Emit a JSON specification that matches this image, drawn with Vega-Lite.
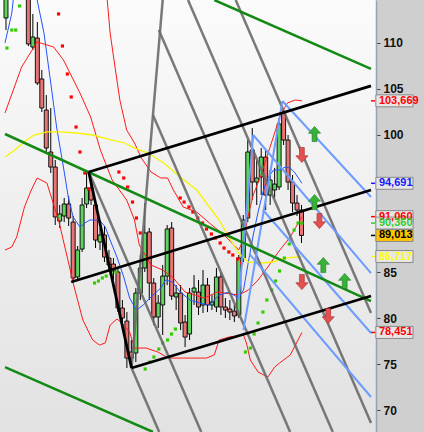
{
  "$schema": "https://vega.github.io/schema/vega-lite/v6.json",
  "width": 376,
  "height": 432,
  "autosize": {"type": "none"},
  "padding": {"left": 0, "top": 0, "right": 48, "bottom": 0},
  "background": "#cfcfcf",
  "config": {
    "view": {"stroke": null, "fill": {"gradient": "linear", "x1": 0, "y1": 0, "x2": 0, "y2": 1, "stops": [{"offset": 0, "color": "#fbfbfb"}, {"offset": 1, "color": "#e2e2e2"}]}},
    "axisY": {"domainColor": "#95a3b3", "domainWidth": 1.5, "tickColor": "#444444", "tickSize": 4, "labelFont": "Liberation Sans", "labelFontSize": 12, "labelFontWeight": "bold", "labelColor": "#111111", "labelPadding": 3, "grid": false, "labelFlush": false, "labelOverlap": false, "zindex": 0}
  },
  "datasets": {
    "candles": [
      {"k": -5, "o": 112.69, "h": 115.96, "l": 111.38, "c": 115.52},
      {"k": 0, "o": 116.83, "h": 117.37, "l": 109.64, "c": 109.86},
      {"k": 1, "o": 109.53, "h": 113.13, "l": 109.21, "c": 110.62},
      {"k": 2, "o": 110.51, "h": 112.25, "l": 105.39, "c": 105.61},
      {"k": 3, "o": 106.05, "h": 107.03, "l": 102.45, "c": 102.89},
      {"k": 4, "o": 102.67, "h": 104.30, "l": 98.10, "c": 98.53},
      {"k": 5, "o": 98.10, "h": 102.89, "l": 95.81, "c": 96.46},
      {"k": 6, "o": 96.46, "h": 97.23, "l": 90.15, "c": 91.02},
      {"k": 7, "o": 90.58, "h": 92.33, "l": 89.82, "c": 91.35},
      {"k": 8, "o": 91.13, "h": 93.09, "l": 90.47, "c": 92.44},
      {"k": 9, "o": 92.44, "h": 93.31, "l": 90.04, "c": 90.91},
      {"k": 10, "o": 90.47, "h": 91.13, "l": 84.05, "c": 84.38},
      {"k": 11, "o": 84.49, "h": 87.86, "l": 84.16, "c": 87.43},
      {"k": 12, "o": 87.53, "h": 93.09, "l": 87.21, "c": 92.33},
      {"k": 13, "o": 92.44, "h": 95.81, "l": 92.00, "c": 94.18},
      {"k": 14, "o": 94.18, "h": 95.27, "l": 92.33, "c": 92.87},
      {"k": 15, "o": 92.33, "h": 92.87, "l": 87.64, "c": 88.51},
      {"k": 16, "o": 88.30, "h": 89.82, "l": 87.43, "c": 89.06},
      {"k": 17, "o": 89.06, "h": 90.04, "l": 86.12, "c": 86.66},
      {"k": 18, "o": 86.55, "h": 87.43, "l": 85.03, "c": 85.79},
      {"k": 19, "o": 85.90, "h": 86.55, "l": 84.16, "c": 85.14},
      {"k": 20, "o": 85.03, "h": 85.47, "l": 80.67, "c": 81.11},
      {"k": 21, "o": 81.11, "h": 81.98, "l": 79.37, "c": 80.02},
      {"k": 22, "o": 79.69, "h": 80.67, "l": 74.58, "c": 75.66},
      {"k": 23, "o": 76.32, "h": 77.63, "l": 74.79, "c": 75.66},
      {"k": 24, "o": 76.21, "h": 83.29, "l": 75.23, "c": 82.74},
      {"k": 25, "o": 82.74, "h": 86.88, "l": 81.98, "c": 85.47},
      {"k": 26, "o": 85.47, "h": 92.54, "l": 85.03, "c": 89.28},
      {"k": 27, "o": 89.39, "h": 89.82, "l": 81.98, "c": 83.83},
      {"k": 28, "o": 83.83, "h": 84.38, "l": 79.26, "c": 80.13},
      {"k": 29, "o": 80.13, "h": 82.52, "l": 78.93, "c": 81.65},
      {"k": 30, "o": 81.44, "h": 85.79, "l": 78.17, "c": 84.59},
      {"k": 31, "o": 84.59, "h": 90.15, "l": 83.61, "c": 89.71},
      {"k": 32, "o": 89.82, "h": 90.47, "l": 81.98, "c": 82.42},
      {"k": 33, "o": 82.31, "h": 83.61, "l": 80.89, "c": 82.74},
      {"k": 34, "o": 82.74, "h": 83.61, "l": 78.71, "c": 79.48},
      {"k": 35, "o": 79.58, "h": 80.35, "l": 76.86, "c": 77.95},
      {"k": 36, "o": 78.28, "h": 83.29, "l": 77.63, "c": 82.74},
      {"k": 37, "o": 82.85, "h": 84.70, "l": 81.44, "c": 83.29},
      {"k": 38, "o": 82.85, "h": 84.16, "l": 80.35, "c": 81.22},
      {"k": 39, "o": 81.44, "h": 85.25, "l": 80.57, "c": 83.61},
      {"k": 40, "o": 83.61, "h": 84.38, "l": 80.67, "c": 81.44},
      {"k": 41, "o": 81.44, "h": 82.52, "l": 80.89, "c": 81.76},
      {"k": 42, "o": 81.22, "h": 85.47, "l": 80.67, "c": 84.49},
      {"k": 43, "o": 84.49, "h": 85.03, "l": 80.35, "c": 81.22},
      {"k": 44, "o": 81.22, "h": 82.20, "l": 80.02, "c": 80.89},
      {"k": 45, "o": 81.00, "h": 81.98, "l": 79.80, "c": 80.67},
      {"k": 46, "o": 80.78, "h": 81.44, "l": 79.58, "c": 80.24},
      {"k": 47, "o": 80.35, "h": 86.88, "l": 80.02, "c": 86.55},
      {"k": 48, "o": 86.55, "h": 91.24, "l": 86.12, "c": 90.69},
      {"k": 49, "o": 90.91, "h": 99.40, "l": 90.47, "c": 98.10},
      {"k": 50, "o": 98.32, "h": 100.71, "l": 92.87, "c": 94.83},
      {"k": 51, "o": 94.83, "h": 97.23, "l": 92.33, "c": 95.27},
      {"k": 52, "o": 95.38, "h": 98.53, "l": 93.41, "c": 97.55},
      {"k": 53, "o": 97.55, "h": 98.32, "l": 91.78, "c": 93.41},
      {"k": 54, "o": 93.41, "h": 96.14, "l": 92.33, "c": 95.05},
      {"k": 55, "o": 93.96, "h": 96.36, "l": 93.09, "c": 94.61},
      {"k": 56, "o": 94.29, "h": 101.80, "l": 93.96, "c": 101.15},
      {"k": 57, "o": 102.35, "h": 102.67, "l": 98.86, "c": 99.40},
      {"k": 58, "o": 99.40, "h": 99.95, "l": 93.96, "c": 94.83},
      {"k": 59, "o": 94.83, "h": 95.59, "l": 91.56, "c": 92.54},
      {"k": 60, "o": 92.54, "h": 93.41, "l": 91.13, "c": 91.78},
      {"k": 61, "o": 91.78, "h": 92.33, "l": 88.19, "c": 89.01}
    ],
    "ind": [
      {"s": "ub", "k": 16.96, "v": 117.37}, {"s": "ub", "k": 17.61, "v": 114.65}, {"s": "ub", "k": 18.26, "v": 111.06}, {"s": "ub", "k": 19.35, "v": 107.35}, {"s": "ub", "k": 20.43, "v": 103.76}, {"s": "ub", "k": 21.96, "v": 100.49}, {"s": "ub", "k": 23.70, "v": 99.08}, {"s": "ub", "k": 25.22, "v": 97.44}, {"s": "ub", "k": 27.39, "v": 95.92}, {"s": "ub", "k": 29.57, "v": 95.27}, {"s": "ub", "k": 31.09, "v": 95.27}, {"s": "ub", "k": 32.39, "v": 93.96}, {"s": "ub", "k": 34.57, "v": 92.11}, {"s": "ub", "k": 37.61, "v": 91.56}, {"s": "ub", "k": 40.43, "v": 90.37}, {"s": "ub", "k": 43.70, "v": 89.06}, {"s": "ub", "k": 46.96, "v": 87.43}, {"s": "ub", "k": 48.04, "v": 88.51}, {"s": "ub", "k": 49.13, "v": 91.24}, {"s": "ub", "k": 50.22, "v": 93.41}, {"s": "ub", "k": 51.96, "v": 95.59}, {"s": "ub", "k": 54.13, "v": 98.86}, {"s": "ub", "k": 56.30, "v": 102.13}, {"s": "ub", "k": 57.83, "v": 103.43}, {"s": "ub", "k": 59.57, "v": 103.76}, {"s": "ub", "k": 61.09, "v": 103.669},
      {"s": "mb", "k": -5.22, "v": 102.34}, {"s": "mb", "k": -1.52, "v": 107.35}, {"s": "mb", "k": 1.96, "v": 110.08}, {"s": "mb", "k": 5.65, "v": 109.53}, {"s": "mb", "k": 7.83, "v": 108.12}, {"s": "mb", "k": 11.52, "v": 104.52}, {"s": "mb", "k": 13.91, "v": 101.91}, {"s": "mb", "k": 16.09, "v": 98.31}, {"s": "mb", "k": 18.70, "v": 95.05}, {"s": "mb", "k": 21.96, "v": 92.87}, {"s": "mb", "k": 23.70, "v": 90.69}, {"s": "mb", "k": 24.78, "v": 87.97}, {"s": "mb", "k": 27.39, "v": 85.79}, {"s": "mb", "k": 30.0, "v": 85.25}, {"s": "mb", "k": 32.17, "v": 84.49}, {"s": "mb", "k": 35.0, "v": 82.85}, {"s": "mb", "k": 39.35, "v": 82.20}, {"s": "mb", "k": 42.17, "v": 82.85}, {"s": "mb", "k": 46.96, "v": 82.52}, {"s": "mb", "k": 49.13, "v": 83.07}, {"s": "mb", "k": 51.30, "v": 84.16}, {"s": "mb", "k": 53.48, "v": 85.57}, {"s": "mb", "k": 55.65, "v": 87.10}, {"s": "mb", "k": 58.48, "v": 88.84}, {"s": "mb", "k": 61.09, "v": 91.06},
      {"s": "lb", "k": -5.22, "v": 87.42}, {"s": "lb", "k": -3.70, "v": 87.75}, {"s": "lb", "k": -2.61, "v": 88.84}, {"s": "lb", "k": -0.87, "v": 92.11}, {"s": "lb", "k": 0.65, "v": 93.96}, {"s": "lb", "k": 1.96, "v": 95.27}, {"s": "lb", "k": 4.13, "v": 94.72}, {"s": "lb", "k": 6.74, "v": 90.69}, {"s": "lb", "k": 9.35, "v": 85.25}, {"s": "lb", "k": 10.0, "v": 83.83}, {"s": "lb", "k": 12.17, "v": 79.80}, {"s": "lb", "k": 14.35, "v": 77.63}, {"s": "lb", "k": 15.87, "v": 77.08}, {"s": "lb", "k": 17.17, "v": 77.30}, {"s": "lb", "k": 18.26, "v": 79.26}, {"s": "lb", "k": 19.78, "v": 79.91}, {"s": "lb", "k": 20.87, "v": 79.48}, {"s": "lb", "k": 22.61, "v": 78.50}, {"s": "lb", "k": 23.70, "v": 76.75}, {"s": "lb", "k": 26.30, "v": 76.75}, {"s": "lb", "k": 28.91, "v": 76.32}, {"s": "lb", "k": 31.30, "v": 75.66}, {"s": "lb", "k": 34.57, "v": 75.66}, {"s": "lb", "k": 39.78, "v": 75.66}, {"s": "lb", "k": 41.52, "v": 76.0}, {"s": "lb", "k": 42.61, "v": 77.63}, {"s": "lb", "k": 44.78, "v": 77.95}, {"s": "lb", "k": 48.04, "v": 78.17}, {"s": "lb", "k": 48.70, "v": 77.30}, {"s": "lb", "k": 49.57, "v": 75.45}, {"s": "lb", "k": 51.30, "v": 74.14}, {"s": "lb", "k": 53.48, "v": 73.59}, {"s": "lb", "k": 55.0, "v": 74.68}, {"s": "lb", "k": 56.09, "v": 75.12}, {"s": "lb", "k": 58.48, "v": 75.99}, {"s": "lb", "k": 61.09, "v": 78.451},
      {"s": "ma", "k": -5.22, "v": 109.97}, {"s": "ma", "k": -3.70, "v": 113.23}, {"s": "ma", "k": -3.26, "v": 115.19}, {"s": "ma", "k": -0.87, "v": 116.83}, {"s": "ma", "k": 1.96, "v": 114.65}, {"s": "ma", "k": 3.48, "v": 111.06}, {"s": "ma", "k": 5.0, "v": 105.61}, {"s": "ma", "k": 6.30, "v": 100.82}, {"s": "ma", "k": 7.17, "v": 98.32}, {"s": "ma", "k": 7.83, "v": 96.46}, {"s": "ma", "k": 8.91, "v": 93.20}, {"s": "ma", "k": 10.0, "v": 91.02}, {"s": "ma", "k": 11.52, "v": 89.93}, {"s": "ma", "k": 12.61, "v": 90.37}, {"s": "ma", "k": 13.70, "v": 90.69}, {"s": "ma", "k": 15.87, "v": 90.69}, {"s": "ma", "k": 17.17, "v": 89.93}, {"s": "ma", "k": 18.26, "v": 88.51}, {"s": "ma", "k": 19.78, "v": 86.66}, {"s": "ma", "k": 21.30, "v": 84.49}, {"s": "ma", "k": 22.61, "v": 82.20}, {"s": "ma", "k": 24.13, "v": 80.89}, {"s": "ma", "k": 25.65, "v": 81.44}, {"s": "ma", "k": 27.39, "v": 82.31}, {"s": "ma", "k": 29.57, "v": 83.29}, {"s": "ma", "k": 30.65, "v": 84.16}, {"s": "ma", "k": 32.17, "v": 83.94}, {"s": "ma", "k": 33.91, "v": 82.85}, {"s": "ma", "k": 36.09, "v": 81.98}, {"s": "ma", "k": 38.26, "v": 81.65}, {"s": "ma", "k": 40.43, "v": 81.44}, {"s": "ma", "k": 42.61, "v": 82.52}, {"s": "ma", "k": 44.78, "v": 82.85}, {"s": "ma", "k": 46.96, "v": 82.20}, {"s": "ma", "k": 48.04, "v": 83.07}, {"s": "ma", "k": 49.13, "v": 86.12}, {"s": "ma", "k": 50.22, "v": 89.06}, {"s": "ma", "k": 51.30, "v": 91.56}, {"s": "ma", "k": 52.39, "v": 93.74}, {"s": "ma", "k": 53.48, "v": 95.27}, {"s": "ma", "k": 54.78, "v": 96.14}, {"s": "ma", "k": 56.09, "v": 96.14}, {"s": "ma", "k": 57.39, "v": 96.46}, {"s": "ma", "k": 58.48, "v": 96.36}, {"s": "ma", "k": 59.57, "v": 95.81}, {"s": "ma", "k": 61.09, "v": 94.691},
      {"s": "ya", "k": -5.22, "v": 97.55}, {"s": "ya", "k": -3.04, "v": 98.32}, {"s": "ya", "k": -0.43, "v": 99.40}, {"s": "ya", "k": 1.30, "v": 99.95}, {"s": "ya", "k": 4.13, "v": 100.28}, {"s": "ya", "k": 7.17, "v": 100.28}, {"s": "ya", "k": 10.65, "v": 100.17}, {"s": "ya", "k": 14.35, "v": 99.95}, {"s": "ya", "k": 18.70, "v": 99.40}, {"s": "ya", "k": 21.52, "v": 99.08}, {"s": "ya", "k": 23.70, "v": 98.53}, {"s": "ya", "k": 26.74, "v": 97.99}, {"s": "ya", "k": 30.22, "v": 96.90}, {"s": "ya", "k": 33.91, "v": 95.38}, {"s": "ya", "k": 37.61, "v": 93.96}, {"s": "ya", "k": 40.43, "v": 92.11}, {"s": "ya", "k": 42.61, "v": 90.69}, {"s": "ya", "k": 44.78, "v": 88.84}, {"s": "ya", "k": 46.96, "v": 87.10}, {"s": "ya", "k": 49.13, "v": 86.12}, {"s": "ya", "k": 51.96, "v": 86.01}, {"s": "ya", "k": 54.57, "v": 86.12}, {"s": "ya", "k": 57.17, "v": 86.55}, {"s": "ya", "k": 61.09, "v": 86.717}
    ],
    "sar": [
      {"t": "g", "k": -4.78, "v": 109.42}, {"t": "g", "k": -3.70, "v": 111.38}, {"t": "g", "k": -2.83, "v": 111.38}, {"t": "g", "k": -1.96, "v": 114.0},
      {"t": "r", "k": 6.74, "v": 113.13}, {"t": "r", "k": 7.61, "v": 109.64}, {"t": "r", "k": 8.70, "v": 106.59}, {"t": "r", "k": 9.57, "v": 104.09}, {"t": "r", "k": 10.65, "v": 100.82}, {"t": "r", "k": 11.52, "v": 98.10}, {"t": "r", "k": 12.61, "v": 95.81}, {"t": "r", "k": 13.48, "v": 94.07},
      {"t": "g", "k": 14.78, "v": 83.83}, {"t": "g", "k": 15.65, "v": 84.05}, {"t": "g", "k": 16.52, "v": 84.38}, {"t": "g", "k": 17.39, "v": 84.59}, {"t": "g", "k": 18.48, "v": 84.81}, {"t": "g", "k": 19.57, "v": 85.03},
      {"t": "r", "k": 20.22, "v": 95.92}, {"t": "r", "k": 21.30, "v": 95.27}, {"t": "r", "k": 22.17, "v": 94.29}, {"t": "r", "k": 23.26, "v": 92.65}, {"t": "r", "k": 24.13, "v": 90.91}, {"t": "r", "k": 25.0, "v": 89.28},
      {"t": "g", "k": 26.09, "v": 74.47}, {"t": "g", "k": 27.17, "v": 75.23}, {"t": "g", "k": 28.04, "v": 75.77}, {"t": "g", "k": 29.13, "v": 76.64}, {"t": "g", "k": 30.0, "v": 77.30}, {"t": "g", "k": 31.09, "v": 77.63}, {"t": "g", "k": 31.96, "v": 78.28}, {"t": "g", "k": 32.83, "v": 78.82},
      {"t": "r", "k": 33.91, "v": 93.09}, {"t": "r", "k": 34.78, "v": 92.65}, {"t": "r", "k": 35.87, "v": 92.11}, {"t": "r", "k": 36.74, "v": 91.56}, {"t": "r", "k": 37.83, "v": 90.91}, {"t": "r", "k": 38.91, "v": 90.37}, {"t": "r", "k": 39.78, "v": 89.71}, {"t": "r", "k": 40.87, "v": 89.17}, {"t": "r", "k": 41.74, "v": 88.73}, {"t": "r", "k": 42.83, "v": 88.19}, {"t": "r", "k": 43.70, "v": 87.64}, {"t": "r", "k": 44.78, "v": 87.21}, {"t": "r", "k": 45.65, "v": 86.88}, {"t": "r", "k": 46.74, "v": 86.45}, {"t": "r", "k": 47.61, "v": 86.01},
      {"t": "g", "k": 48.48, "v": 76.32}, {"t": "g", "k": 49.57, "v": 76.75}, {"t": "g", "k": 50.43, "v": 78.28}, {"t": "g", "k": 51.30, "v": 79.48}, {"t": "g", "k": 52.39, "v": 80.67}, {"t": "g", "k": 53.26, "v": 81.98}, {"t": "g", "k": 54.35, "v": 83.07}, {"t": "g", "k": 55.22, "v": 84.05}, {"t": "g", "k": 56.09, "v": 85.14}, {"t": "g", "k": 57.17, "v": 86.55}, {"t": "g", "k": 58.26, "v": 88.08}, {"t": "g", "k": 59.35, "v": 89.60}, {"t": "g", "k": 60.22, "v": 90.36}, {"t": "g", "k": 61.09, "v": 90.36}
    ],
    "tl": [
      {"id": "T1", "g": "black", "k": 13.48, "v": 95.92}, {"id": "T1", "g": "black", "k": 76.52, "v": 105.29},
      {"id": "T2", "g": "black", "k": 9.57, "v": 83.94}, {"id": "T2", "g": "black", "k": 76.52, "v": 93.96},
      {"id": "T3", "g": "black", "k": 23.04, "v": 74.58}, {"id": "T3", "g": "black", "k": 76.52, "v": 82.42},
      {"id": "T4", "g": "black", "k": 13.48, "v": 95.92}, {"id": "T4", "g": "black", "k": 23.04, "v": 74.58},
      {"id": "G1", "g": "green", "k": 41.52, "v": 114.65}, {"id": "G1", "g": "green", "k": 76.52, "v": 107.14},
      {"id": "G2", "g": "green", "k": -5.22, "v": 100.06}, {"id": "G2", "g": "green", "k": 76.52, "v": 81.87},
      {"id": "G3", "g": "green", "k": -5.22, "v": 74.68}, {"id": "G3", "g": "green", "k": 27.83, "v": 67.61},
      {"id": "Gh", "g": "gray", "k": 30.0, "v": 114.65}, {"id": "Gh", "g": "gray", "k": 23.04, "v": 74.58},
      {"id": "Gp0", "g": "gray", "k": 13.48, "v": 95.92}, {"id": "Gp0", "g": "gray", "k": 38.61, "v": 67.61},
      {"id": "Gp1", "g": "gray", "k": 29.13, "v": 111.38}, {"id": "Gp1", "g": "gray", "k": 67.98, "v": 67.61},
      {"id": "Gp2", "g": "gray", "k": 27.83, "v": 102.13}, {"id": "Gp2", "g": "gray", "k": 58.46, "v": 67.61},
      {"id": "Gp3", "g": "gray", "k": 23.04, "v": 74.58}, {"id": "Gp3", "g": "gray", "k": 29.22, "v": 67.61},
      {"id": "Gp4", "g": "gray", "k": 35.65, "v": 114.65}, {"id": "Gp4", "g": "gray", "k": 76.52, "v": 68.58},
      {"id": "Gp5", "g": "gray", "k": 46.30, "v": 114.65}, {"id": "Gp5", "g": "gray", "k": 76.52, "v": 80.56},
      {"id": "Bh1", "g": "blue", "k": 48.04, "v": 78.71}, {"id": "Bh1", "g": "blue", "k": 56.74, "v": 103.65},
      {"id": "Bh2", "g": "blue", "k": 46.96, "v": 81.98}, {"id": "Bh2", "g": "blue", "k": 50.22, "v": 99.95},
      {"id": "Bp1", "g": "blue", "k": 56.74, "v": 103.65}, {"id": "Bp1", "g": "blue", "k": 76.52, "v": 93.20},
      {"id": "Bp2", "g": "blue", "k": 50.22, "v": 99.95}, {"id": "Bp2", "g": "blue", "k": 76.52, "v": 84.92},
      {"id": "Bp3", "g": "blue", "k": 52.39, "v": 91.78}, {"id": "Bp3", "g": "blue", "k": 76.52, "v": 78.39},
      {"id": "Bp4", "g": "blue", "k": 49.35, "v": 87.00}, {"id": "Bp4", "g": "blue", "k": 76.52, "v": 71.42}
    ],
    "arrows": [
      {"d": "up", "k": 63.91, "v": 100.06}, {"d": "up", "k": 63.91, "v": 92.65}, {"d": "up", "k": 65.87, "v": 85.79}, {"d": "up", "k": 70.65, "v": 84.05},
      {"d": "dn", "k": 61.09, "v": 97.77}, {"d": "dn", "k": 65.0, "v": 90.58}, {"d": "dn", "k": 61.09, "v": 83.94}, {"d": "dn", "k": 66.96, "v": 80.24}
    ],
    "tags": [
      {"s": "ub", "v": 103.669, "lab": "103,669"},
      {"s": "ma", "v": 94.691, "lab": "94,691"},
      {"s": "mb", "v": 91.06, "lab": "91,060"},
      {"s": "sar", "v": 90.36, "lab": "90,360"},
      {"s": "cl", "v": 89.013, "lab": "89,013"},
      {"s": "ya", "v": 86.717, "lab": "86,717"},
      {"s": "lb", "v": 78.451, "lab": "78,451"}
    ]
  },
  "layer": [
    {
      "data": {"name": "candles"},
      "mark": {"type": "rule", "color": "#000000", "strokeWidth": 1, "clip": true},
      "encoding": {
        "x": {"field": "k", "type": "quantitative", "scale": {"domain": [-5.22, 76.52], "nice": false, "zero": false}, "axis": null, "title": null},
        "y": {"field": "l", "type": "quantitative", "scale": {"domain": [67.61, 114.65], "nice": false, "zero": false}, "axis": {"orient": "right", "values": [70, 75, 80, 85, 100, 105, 110, 115], "title": null}, "title": null},
        "y2": {"field": "h"}
      }
    },
    {
      "data": {"name": "candles"},
      "mark": {"type": "bar", "size": 4, "stroke": "#000000", "strokeWidth": 0.9, "clip": true},
      "encoding": {
        "x": {"field": "k", "type": "quantitative", "title": null},
        "y": {"field": "o", "type": "quantitative", "title": null},
        "y2": {"field": "c"},
        "fill": {"condition": {"test": "datum.c >= datum.o", "value": "#5ed35e"}, "value": "#e87575"}
      }
    },
    {
      "data": {"name": "ind"},
      "transform": [{"filter": "datum.s == 'ub' || datum.s == 'mb' || datum.s == 'lb'"}],
      "mark": {"type": "line", "color": "#ff1a1a", "strokeWidth": 1, "clip": true},
      "encoding": {
        "x": {"field": "k", "type": "quantitative", "title": null},
        "y": {"field": "v", "type": "quantitative", "title": null},
        "detail": {"field": "s"}
      }
    },
    {
      "data": {"name": "ind"},
      "transform": [{"filter": "datum.s == 'ma'"}],
      "mark": {"type": "line", "color": "#2255ff", "strokeWidth": 1, "clip": true},
      "encoding": {
        "x": {"field": "k", "type": "quantitative", "title": null},
        "y": {"field": "v", "type": "quantitative", "title": null}
      }
    },
    {
      "data": {"name": "ind"},
      "transform": [{"filter": "datum.s == 'ya'"}],
      "mark": {"type": "line", "color": "#f5f500", "strokeWidth": 1.3, "clip": true},
      "encoding": {
        "x": {"field": "k", "type": "quantitative", "title": null},
        "y": {"field": "v", "type": "quantitative", "title": null}
      }
    },
    {
      "data": {"name": "sar"},
      "mark": {"type": "point", "shape": "square", "filled": true, "size": 10, "opacity": 1, "clip": true},
      "encoding": {
        "x": {"field": "k", "type": "quantitative", "title": null},
        "y": {"field": "v", "type": "quantitative", "title": null},
        "color": {"condition": {"test": "datum.t == 'g'", "value": "#33cc00"}, "value": "#ff0000"}
      }
    },
    {
      "data": {"name": "tl"},
      "transform": [{"filter": "datum.g == 'gray'"}],
      "mark": {"type": "line", "color": "#6a6a6a", "strokeWidth": 2.5, "opacity": 0.9, "clip": true},
      "encoding": {
        "x": {"field": "k", "type": "quantitative", "title": null},
        "y": {"field": "v", "type": "quantitative", "title": null},
        "detail": {"field": "id"}
      }
    },
    {
      "data": {"name": "tl"},
      "transform": [{"filter": "datum.g == 'blue'"}],
      "mark": {"type": "line", "color": "#6d9cff", "strokeWidth": 2, "clip": true},
      "encoding": {
        "x": {"field": "k", "type": "quantitative", "title": null},
        "y": {"field": "v", "type": "quantitative", "title": null},
        "detail": {"field": "id"}
      }
    },
    {
      "data": {"name": "tl"},
      "transform": [{"filter": "datum.g == 'green'"}],
      "mark": {"type": "line", "color": "#148a14", "strokeWidth": 2.5, "clip": true},
      "encoding": {
        "x": {"field": "k", "type": "quantitative", "title": null},
        "y": {"field": "v", "type": "quantitative", "title": null},
        "detail": {"field": "id"}
      }
    },
    {
      "data": {"name": "tl"},
      "transform": [{"filter": "datum.g == 'black'"}],
      "mark": {"type": "line", "color": "#000000", "strokeWidth": 2.8, "clip": true},
      "encoding": {
        "x": {"field": "k", "type": "quantitative", "title": null},
        "y": {"field": "v", "type": "quantitative", "title": null},
        "detail": {"field": "id"}
      }
    },
    {
      "data": {"name": "arrows"},
      "transform": [{"filter": "datum.d == 'up'"}],
      "mark": {"type": "point", "shape": "M0,-1L0.8,-0.1L0.32,-0.1L0.32,1L-0.32,1L-0.32,-0.1L-0.8,-0.1Z", "filled": true, "size": 230, "fill": "#36b236", "stroke": "#1f7a1f", "strokeWidth": 0.6, "opacity": 1},
      "encoding": {
        "x": {"field": "k", "type": "quantitative", "title": null},
        "y": {"field": "v", "type": "quantitative", "title": null}
      }
    },
    {
      "data": {"name": "arrows"},
      "transform": [{"filter": "datum.d == 'dn'"}],
      "mark": {"type": "point", "shape": "M0,1L0.8,0.1L0.32,0.1L0.32,-1L-0.32,-1L-0.32,0.1L-0.8,0.1Z", "filled": true, "size": 230, "fill": "#e35050", "stroke": "#a52a2a", "strokeWidth": 0.6, "opacity": 1},
      "encoding": {
        "x": {"field": "k", "type": "quantitative", "title": null},
        "y": {"field": "v", "type": "quantitative", "title": null}
      }
    },
    {
      "data": {"name": "tags"},
      "mark": {"type": "rule", "strokeWidth": 1.5},
      "encoding": {
        "x": {"datum": 76.52, "type": "quantitative"},
        "x2": {"datum": 77.45},
        "y": {"field": "v", "type": "quantitative", "title": null},
        "color": {"field": "s", "type": "nominal", "legend": null, "scale": {"domain": ["ub", "ma", "mb", "sar", "cl", "ya", "lb"], "range": ["#ff0000", "#1a1aff", "#ff0000", "#33cc33", "#000000", "#ffff00", "#ff0000"]}}
      }
    },
    {
      "data": {"name": "tags"},
      "mark": {"type": "rect", "stroke": "#8a8a8a", "strokeWidth": 1, "yOffset": 6, "y2Offset": -6},
      "encoding": {
        "x": {"datum": 77.61, "type": "quantitative"},
        "x2": {"datum": 85.9},
        "y": {"field": "v", "type": "quantitative", "title": null},
        "y2": {"field": "v"},
        "fill": {"condition": {"test": "datum.s == 'cl'", "value": "#ffc400"}, "value": "#e6e6e6"}
      }
    },
    {
      "data": {"name": "tags"},
      "mark": {"type": "text", "align": "left", "baseline": "middle", "font": "Liberation Sans", "fontSize": 11, "fontWeight": "bold", "dx": 3},
      "encoding": {
        "x": {"datum": 77.61, "type": "quantitative"},
        "y": {"field": "v", "type": "quantitative", "title": null},
        "text": {"field": "lab"},
        "color": {"field": "s", "type": "nominal", "legend": null}
      }
    }
  ]
}
